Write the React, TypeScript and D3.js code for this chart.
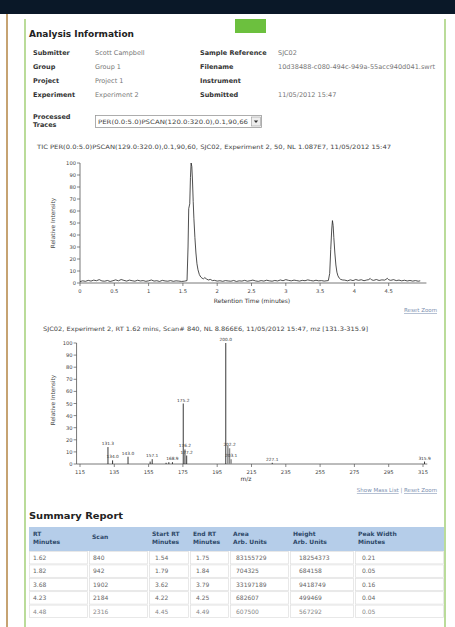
import React from 'react';
import * as d3 from 'd3';

// ---------- DATA ----------
const infoLabelsLeft = ['Submitter', 'Group', 'Project', 'Experiment'];
const infoValuesLeft = ['Scott Campbell', 'Group 1', 'Project 1', 'Experiment 2'];
const infoLabelsRight = ['Sample Reference', 'Filename', 'Instrument', 'Submitted'];
const infoValuesRight = ['SJC02', '10d38488-c080-494c-949a-55acc940d041.swrt', '', '11/05/2012 15:47'];

const traceOption = 'PER(0.0:5.0)PSCAN(120.0:320.0),0.1,90,66';
const ticTitle = 'TIC PER(0.0:5.0)PSCAN(129.0:320.0),0.1,90,60, SJC02, Experiment 2, 50, NL 1.087E7, 11/05/2012 15:47';
const msTitle = 'SJC02, Experiment 2, RT 1.62 mins, Scan# 840, NL 8.866E6, 11/05/2012 15:47, mz [131.3-315.9]';

const ticTimes = [
  0, 0.04, 0.08, 0.12, 0.16, 0.2, 0.24, 0.28, 0.32, 0.36, 0.4, 0.44, 0.48, 0.52, 0.56, 0.6, 0.64, 0.68, 0.72, 0.76,
  0.8, 0.84, 0.88, 0.92, 0.96, 1.0, 1.04, 1.08, 1.12, 1.16, 1.2, 1.24, 1.28, 1.32, 1.36, 1.4, 1.44, 1.48, 1.52,
  1.56, 1.575, 1.585, 1.6, 1.61, 1.62, 1.63, 1.64, 1.65, 1.66, 1.675, 1.69, 1.705, 1.72, 1.74, 1.76, 1.78, 1.8,
  1.82, 1.84, 1.87, 1.9, 1.93,
  1.96, 2.0, 2.04, 2.08, 2.12, 2.16, 2.2, 2.24, 2.28, 2.32, 2.36, 2.4, 2.44, 2.48, 2.52, 2.56, 2.6, 2.64, 2.68,
  2.72, 2.76, 2.8, 2.84, 2.88, 2.92, 2.96, 3.0, 3.04, 3.08, 3.12, 3.16, 3.2, 3.24, 3.28, 3.32, 3.36, 3.4, 3.44,
  3.48, 3.52, 3.56, 3.6,
  3.62, 3.64, 3.655, 3.67, 3.68, 3.69, 3.7, 3.715, 3.73, 3.745, 3.76, 3.78, 3.8, 3.83,
  3.86, 3.9, 3.94, 3.98, 4.02, 4.06, 4.1, 4.14, 4.18, 4.21, 4.23, 4.25, 4.28, 4.32, 4.36, 4.4, 4.44, 4.46, 4.48,
  4.5, 4.53, 4.57, 4.61, 4.65, 4.69, 4.73, 4.77, 4.81, 4.85, 4.89, 4.93, 4.96,
];
const ticIntensity = [
  1.2, 1.8, 1.4, 2.2, 1.6, 2.4, 1.9, 2.8, 1.7, 1.5, 2.1, 1.3, 1.9, 2.6, 1.8, 2.9, 2.2, 1.6, 2.4, 1.9,
  1.5, 2.3, 1.7, 2.0, 1.4, 1.8, 2.5, 1.6, 1.9, 1.3, 2.2, 1.7, 1.5, 2.0, 1.4, 1.8, 1.6, 1.3, 1.5,
  2, 30, 62, 66, 88, 100, 97, 85, 68, 54, 38, 25, 16, 11, 7, 5, 4, 3.5,
  4.5, 3.5, 2.5, 3, 2,
  2.2, 1.6, 1.9, 1.4, 2.0, 1.7, 1.5, 2.1, 1.3, 1.8, 1.6, 2.2, 1.5, 1.9, 2.4, 1.7, 1.4, 2.0, 1.6,
  2.3, 1.8, 1.5, 2.1, 1.7, 2.5, 1.9, 2.8, 2.2, 1.8, 2.4, 2.0, 1.6, 2.2, 1.9, 2.6, 2.1, 1.7, 2.3,
  1.8, 2.0, 1.6, 1.9,
  2, 8, 28, 45, 52, 48, 38, 25, 15, 9, 6, 4, 3, 2.5,
  2.4, 1.8, 2.6, 2.0, 2.9, 2.2, 2.7, 1.9, 2.5, 2.8, 3.8, 2.6, 2.2, 2.9, 2.1, 2.6, 2.4, 3.0, 3.9,
  2.7, 2.2, 2.8, 2.0, 2.4, 1.8, 2.3, 1.7, 2.1, 1.6, 2.0, 1.5, 1.8,
];
const ticXTicks = [0, 0.5, 1, 1.5, 2, 2.5, 3, 3.5, 4, 4.5];
const yTicks = [0, 10, 20, 30, 40, 50, 60, 70, 80, 90, 100];

const msMz = [131.3, 134.0, 143.0, 155.9, 157.1, 165.2, 166.8, 168.9, 175.2, 176.2, 177.2, 200.0, 201.2, 202.2, 203.1, 227.1, 315.9];
const msIntensity = [14, 3, 6, 2, 4, 1, 1.5, 1.5, 50, 12, 7, 100, 15, 13, 4, 1, 2];
const msLabels = ['131.3', '134.0', '143.0', '', '157.1', '', '', '168.9', '175.2', '176.2', '177.2', '200.0', '', '202.2', '203.1', '227.1', '315.9'];
const msXTicks = [115, 135, 155, 175, 195, 215, 235, 255, 275, 295, 315];

const tableHeaders = [['RT', 'Minutes'], ['Scan', ''], ['Start RT', 'Minutes'], ['End RT', 'Minutes'], ['Area', 'Arb. Units'], ['Height', 'Arb. Units'], ['Peak Width', 'Minutes']];
const rtMinutes = ['1.62', '1.82', '3.68', '4.23', '4.48'];
const scans = ['840', '942', '1902', '2184', '2316'];
const startRt = ['1.54', '1.79', '3.62', '4.22', '4.45'];
const endRt = ['1.75', '1.84', '3.79', '4.25', '4.49'];
const areas = ['83155729', '704325', '33197189', '682607', '607500'];
const heights = ['18254373', '684158', '9418749', '499469', '567292'];
const peakWidths = ['0.21', '0.05', '0.16', '0.04', '0.05'];

// ---------- LAYOUT ----------
const FONT = 'DejaVu Sans, Verdana, sans-serif';

function T(props: any) {
  const { x, y, children, size = 7, weight = 'normal', fill = '#333', width, anchor = 'start', transform, underline } = props;
  const extra: any = {};
  if (width) { extra.textLength = width; extra.lengthAdjust = 'spacingAndGlyphs'; }
  return (
    <text x={x} y={y} fontSize={size} fontWeight={weight} fill={fill} fontFamily={FONT} textAnchor={anchor}
      transform={transform} textDecoration={underline ? 'underline' : undefined} {...extra}>{children}</text>
  );
}

export default function App() {
  const x1 = d3.scaleLinear().domain([0, 5]).range([80, 423]);
  const y1 = d3.scaleLinear().domain([0, 100]).range([283, 163]);
  const x2 = d3.scaleLinear().domain([115, 315]).range([80, 423]);
  const y2 = d3.scaleLinear().domain([0, 100]).range([464, 343]);

  const ticLine = d3.line<number>()
    .x((_, i) => x1(ticTimes[i]))
    .y((d) => y1(d))(ticIntensity) || '';

  const infoRowsY = [55, 69, 83, 97];
  const infoSize = 6.5;

  const colX = [29, 88, 148, 189, 229, 289, 354, 444];
  const textOff = [4, 5, 7, 7, 7, 10, 8];
  const columns = [rtMinutes, scans, startRt, endRt, areas, heights, peakWidths];
  const rowTop = 551;
  const rowH = 13.4;

  return (
    <svg width={455} height={627} style={{ position: 'absolute', left: 0, top: 0, background: '#fff' }}>
      {/* page frame */}
      <rect x={0} y={0} width={455} height={14} fill="#0a1828" />
      <rect x={6} y={14} width={2} height={613} fill="#c6a372" />
      <line x1={25} y1={19} x2={25} y2={627} stroke="#8cc456" strokeWidth={1.2} />
      <line x1={445} y1={19} x2={445} y2={627} stroke="#8cc456" strokeWidth={1.2} />
      <rect x={235} y={19} width={31} height={14} fill="#6cc03e" />

      {/* Analysis information */}
      <T x={29} y={37} size={9.5} weight="bold" fill="#222" width={105}>Analysis Information</T>
      {infoLabelsLeft.map((l, i) => (
        <T key={'ll' + i} x={33} y={infoRowsY[i]} size={infoSize} weight="bold" fill="#333">{l}</T>
      ))}
      {infoValuesLeft.map((l, i) => (
        <T key={'lv' + i} x={95} y={infoRowsY[i]} size={infoSize} fill="#777">{l}</T>
      ))}
      {infoLabelsRight.map((l, i) => (
        <T key={'rl' + i} x={200} y={infoRowsY[i]} size={infoSize} weight="bold" fill="#333">{l}</T>
      ))}
      {infoValuesRight.map((l, i) => (l ? (
        <T key={'rv' + i} x={278} y={infoRowsY[i]} size={infoSize} fill="#777" width={i === 1 ? 157 : undefined}>{l}</T>
      ) : null))}

      <T x={33} y={119} size={infoSize} weight="bold" fill="#333">Processed</T>
      <T x={33} y={127} size={infoSize} weight="bold" fill="#333">Traces</T>
      <rect x={95.5} y={115.5} width={166} height={12} fill="#fff" stroke="#9a9a9a" strokeWidth={0.8} />
      <T x={98} y={124} size={6} fill="#444" width={150}>{traceOption}</T>
      <rect x={251.5} y={117} width={9} height={9} fill="#eee" stroke="#999" strokeWidth={0.6} />
      <path d="M253.8,120.5 L258.2,120.5 L256,123 Z" fill="#333" />

      {/* TIC chart */}
      <T x={37} y={149} size={6} fill="#444" width={354}>{ticTitle}</T>
      <line x1={x1(0)} y1={y1(100)} x2={x1(0)} y2={y1(0)} stroke="#555" strokeWidth={0.8} />
      <line x1={x1(0)} y1={y1(0)} x2={x1(5.05)} y2={y1(0)} stroke="#555" strokeWidth={0.8} />
      {yTicks.map((t) => (
        <g key={'y1' + t}>
          <line x1={x1(0) - 3} y1={y1(t)} x2={x1(0)} y2={y1(t)} stroke="#555" strokeWidth={0.7} />
          <T x={x1(0) - 4} y={y1(t) + 2} size={5.2} fill="#444" anchor="end">{String(t)}</T>
        </g>
      ))}
      {ticXTicks.map((t) => (
        <g key={'x1' + t}>
          <line x1={x1(t)} y1={y1(0)} x2={x1(t)} y2={y1(0) + 3} stroke="#555" strokeWidth={0.7} />
          <T x={x1(t)} y={y1(0) + 10} size={5.2} fill="#444" anchor="middle">{String(t)}</T>
        </g>
      ))}
      <path d={ticLine} fill="none" stroke="#222" strokeWidth={0.8} strokeLinejoin="round" />
      <T x={0} y={0} size={5.8} fill="#444" anchor="middle" transform="translate(55,223) rotate(-90)">Relative Intensity</T>
      <T x={252} y={303} size={6} fill="#333" anchor="middle">Retention Time (minutes)</T>
      <T x={437} y={312} size={5.5} fill="#7b8fb0" anchor="end" underline>Reset Zoom</T>

      {/* Mass spectrum */}
      <T x={43} y={331} size={6} fill="#444" width={325}>{msTitle}</T>
      <line x1={x2(113)} y1={y2(100)} x2={x2(113)} y2={y2(0)} stroke="#555" strokeWidth={0.8} />
      <line x1={x2(113)} y1={y2(0)} x2={x2(317.5)} y2={y2(0)} stroke="#555" strokeWidth={0.8} />
      {yTicks.map((t) => (
        <g key={'y2' + t}>
          <line x1={x2(113) - 3} y1={y2(t)} x2={x2(113)} y2={y2(t)} stroke="#555" strokeWidth={0.7} />
          <T x={x2(113) - 4} y={y2(t) + 2} size={5.2} fill="#444" anchor="end">{String(t)}</T>
        </g>
      ))}
      {msXTicks.map((t) => (
        <g key={'x2' + t}>
          <line x1={x2(t)} y1={y2(0)} x2={x2(t)} y2={y2(0) + 3} stroke="#555" strokeWidth={0.7} />
          <T x={x2(t)} y={y2(0) + 10} size={5.2} fill="#444" anchor="middle">{String(t)}</T>
        </g>
      ))}
      {msMz.map((m, i) => (
        <line key={'st' + i} x1={x2(m)} y1={y2(0)} x2={x2(m)} y2={y2(msIntensity[i])}
          stroke={m > 200.5 && m < 204 ? '#888' : '#222'} strokeWidth={m > 200.5 && m < 204 ? 1.4 : 0.9} />
      ))}
      {msMz.map((m, i) => (msLabels[i] ? (
        <T key={'sl' + i} x={x2(m)} y={y2(msIntensity[i]) - 2} size={4.3} fill="#333" anchor="middle">{msLabels[i]}</T>
      ) : null))}
      <T x={0} y={0} size={5.8} fill="#444" anchor="middle" transform="translate(55,400) rotate(-90)">Relative Intensity</T>
      <T x={246} y={481} size={6} fill="#333" anchor="middle">m/z</T>
      <T x={437} y={492} size={5.5} fill="#7b8fb0" anchor="end">
        <tspan textDecoration="underline">Show Mass List</tspan> | <tspan textDecoration="underline">Reset Zoom</tspan>
      </T>

      {/* Summary report */}
      <T x={29} y={519} size={9.5} weight="bold" fill="#222" width={94}>Summary Report</T>
      <rect x={colX[0]} y={527} width={colX[7] - colX[0]} height={24} fill="#b5cde9" />
      {tableHeaders.map((h, j) => (
        <g key={'h' + j}>
          <T x={colX[j] + 4} y={h[1] ? 536 : 539} size={6} weight="bold" fill="#2d4868">{h[0]}</T>
          {h[1] ? <T x={colX[j] + 4} y={544} size={6} weight="bold" fill="#2d4868">{h[1]}</T> : null}
        </g>
      ))}
      {rtMinutes.map((_, i) => (
        <g key={'r' + i}>
          {columns.map((col, j) => (
            <g key={'c' + j}>
              <rect x={colX[j] + (j === 0 ? 0.5 : 1.5)} y={rowTop + i * rowH + 0.5} width={colX[j + 1] - colX[j] - (j === 0 ? 1 : 2)}
                height={rowH - 1} fill="#fff" stroke="#dedede" strokeWidth={0.7} />
              <T x={colX[j] + textOff[j]} y={rowTop + i * rowH + 9} size={6} fill={i === 4 ? '#888' : '#666'}>{col[i]}</T>
            </g>
          ))}
        </g>
      ))}
    </svg>
  );
}
